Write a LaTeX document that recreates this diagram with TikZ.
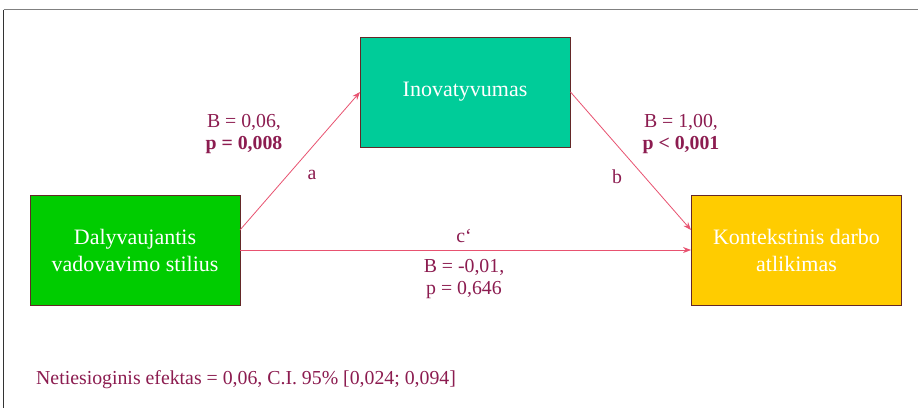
\documentclass[tikz,border=0pt]{standalone}
\usepackage{fontspec}
\setmainfont{Liberation Serif}
\usetikzlibrary{arrows.meta}
\definecolor{lblc}{RGB}{140,28,80}
\definecolor{arrc}{RGB}{232,82,112}
\definecolor{tealc}{RGB}{0,204,153}
\definecolor{greenc}{RGB}{0,204,0}
\definecolor{yellc}{RGB}{255,204,0}
\definecolor{bordc}{RGB}{100,40,40}
\tikzset{
  boxnode/.style={draw=bordc, line width=0.9pt, minimum width=210pt, minimum height=110pt,
    inner sep=0pt, align=center, text=white, font=\fontsize{22}{27}\selectfont},
  lbl/.style={text=lblc, align=center, font=\fontsize{19.8}{22.5}\selectfont, inner sep=0pt},
  conn/.style={draw=arrc, line width=0.8pt, -{Stealth[length=8pt,width=6pt]}}
}
\begin{document}
\begin{tikzpicture}[x=1pt,y=-1pt]
\useasboundingbox (0,0) rectangle (918,408);
\fill[white] (0,0) rectangle (918,408);
\draw[gray, line width=1.6pt] (3.5,9.5) -- (918,9.5);
\draw[black!80, line width=1pt] (3.5,9.5) -- (3.5,408);
\node[boxnode, fill=tealc] (ino) at (465,92) {Inovatyvumas};
\node[boxnode, fill=greenc] (dal) at (135,250) {Dalyvaujantis\\vadovavimo stilius};
\node[boxnode, fill=yellc] (kon) at (796.5,250) {Kontekstinis darbo\\atlikimas};
\coordinate (aS) at (240,230);
\coordinate (aE) at (360,92);
\coordinate (bS) at (570.5,92);
\coordinate (bE) at (691,230);
\draw[conn] (aS) -- (aE);
\draw[conn] (bS) -- (bE);
\draw[conn] (dal.east) -- (kon.west);
\node[lbl] (la) at (244,134) {B = 0,06,\\\textbf{p = 0,008}};
\node[lbl] (a) at (312,175) {a};
\node[lbl] (lb) at (681,134) {B = 1,00,\\\textbf{p < 0,001}};
\node[lbl] (b) at (617,177) {b};
\node[lbl] (c) at (464,236) {c‘};
\node[lbl] (lc) at (464,279) {B = -0,01,\\p = 0,646};
\node[lbl, anchor=west] (ne) at (36,380) {Netiesioginis efektas = 0,06, C.I. 95\% [0,024; 0,094]};
\end{tikzpicture}
\end{document}
